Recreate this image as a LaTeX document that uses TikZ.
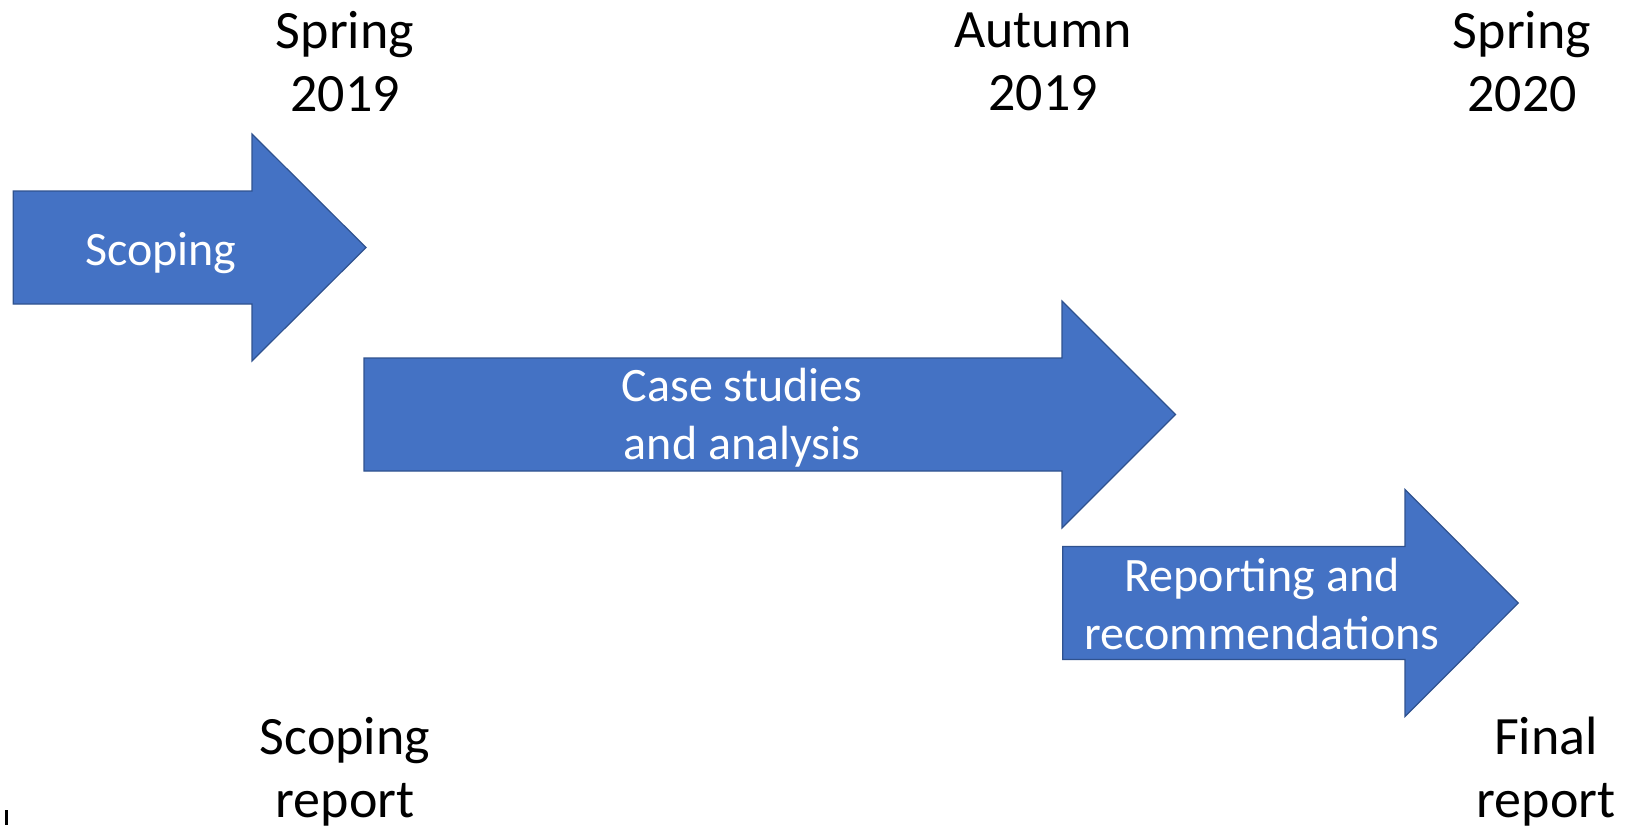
\documentclass[tikz,border=0pt]{standalone}
\usepackage{fontspec}
\setmainfont{Carlito}
\usetikzlibrary{calc}

\definecolor{phaseblue}{HTML}{4472C4}
\definecolor{phaseedge}{HTML}{2F528F}

\begin{document}
\begin{tikzpicture}[
    x=1pt, y=-1pt,
    phase/.style={fill=phaseblue, draw=phaseedge, line width=1.2pt, line join=miter},
    datelabel/.style={align=center, inner sep=0pt, font=\fontsize{54}{63}\selectfont},
    phaselabel/.style={align=center, inner sep=0pt, text=white, font=\fontsize{48}{58}\selectfont}
    ]

    % Determines the boundries
    \path[use as bounding box] (0,0) rectangle (1631,825);

    \def\sh{56.5}           % half height of shaft
    \def\hh{113.5}          % half height of head

    % Phase arrows: left / head base / tip / centre line
    \foreach \L/\B/\T/\C in
        {13.3/252/366/247.5, 364/1062/1175.5/414.5, 1062.7/1405/1518.3/603}{
        \draw[phase] (\L,\C-\sh) -- (\B,\C-\sh) -- (\B,\C-\hh) -- (\T,\C)
            -- (\B,\C+\hh) -- (\B,\C+\sh) -- (\L,\C+\sh) -- cycle;
    }

    % Text inside the arrows
    \node (scoping)  at (161,253)   [phaselabel] {Scoping};
    \node (cases)    at (742,418)   [phaselabel] {Case studies\\and analysis};
    \node (reporting) at (1262,604) [phaselabel] {Reporting and\\recommendations};

    % Dates along the top
    \node (spring19) at (345,62)  [datelabel] {Spring\\2019};
    \node (autumn19) at (1043,62) [datelabel] {Autumn\\2019};
    \node (spring20) at (1522,62) [datelabel] {Spring\\2020};

    % Deliverables along the bottom
    \node (scoperep) at (345,772)  [datelabel] {Scoping\\report};
    \node (finalrep) at (1546,772) [datelabel] {Final\\report};

    % stray mark in the corner
    \draw[line width=2.5pt] (6.5,810) -- (6.5,825);
\end{tikzpicture}
\end{document}
